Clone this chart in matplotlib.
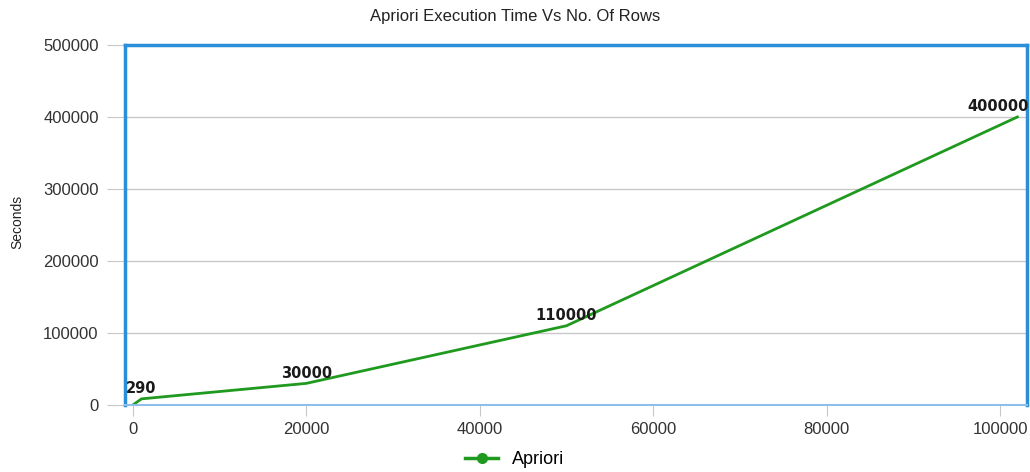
import matplotlib
matplotlib.use("Agg")
import matplotlib.pyplot as plt

plt.rcParams['font.family'] = ['Liberation Sans', 'DejaVu Sans']

rows = [0, 1000, 20000, 50000, 102000]
seconds = [0, 8500, 30000, 110000, 400000]
point_labels = ["", "290", "30000", "110000", "400000"]
x_ticks = [0, 20000, 40000, 60000, 80000, 100000]
y_ticks = [0, 100000, 200000, 300000, 400000, 500000]

green = "#1f9a1f"
blue = "#2a8fd8"

fig = plt.figure(figsize=(10.3, 4.72), dpi=100)
ax = fig.add_axes([0.1214, 0.142, 0.8756, 0.7627])

ax.plot(rows, seconds, color=green, lw=2)
# legend handle with marker
ax.plot([], [], color=green, lw=2.5, marker="o", ms=7, label="Apriori")

for i, (x, y, t) in enumerate(zip(rows, seconds, point_labels)):
    if not t:
        continue
    dx = -14 if i == len(rows) - 1 else 0
    ax.annotate(t, (x, y), xytext=(dx, 2), textcoords="offset points",
                ha="center", va="bottom", fontsize=10.5, fontweight="bold",
                color="#1a1a1a", family="DejaVu Sans")

ax.set_xlim(-900, 103100)
ax.set_ylim(0, 500000)
ax.set_xticks(x_ticks)
ax.set_yticks(y_ticks)
ax.grid(axis="y", color="#c8c8c8", lw=1)
ax.set_axisbelow(True)

for side in ["left", "top", "right"]:
    ax.spines[side].set_color(blue)
    ax.spines[side].set_linewidth(2.5)
ax.spines["bottom"].set_color("#8cc0ea")
ax.spines["bottom"].set_linewidth(1.5)

ax.tick_params(axis="both", colors="#c8c8c8", labelcolor="#333333",
               labelsize=12)
ax.tick_params(axis="y", length=13, pad=6)
ax.tick_params(axis="x", length=8, pad=4)

fig.text(17 / 1030, 0.53, "Seconds", rotation=90, fontsize=10,
         color="#222222", ha="center", va="center")
fig.text(0.5, 1 - 17 / 472, "Apriori Execution Time Vs No. Of Rows",
         fontsize=12, color="#222222", ha="center", va="center")

fig.legend(loc="center", bbox_to_anchor=(0.5, 1 - 460 / 472), frameon=False,
           fontsize=13, handlelength=1.8)

fig.savefig("out.png", dpi=100)
